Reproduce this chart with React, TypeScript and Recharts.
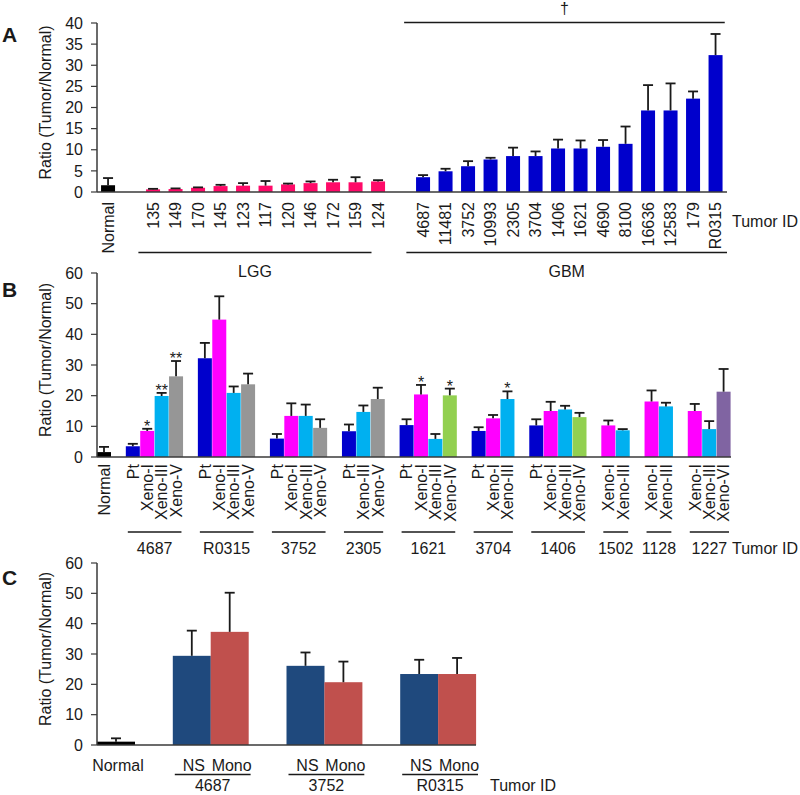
import React from 'react';
import { BarChart, Bar, XAxis, YAxis, Cell, Label } from 'recharts';

const FONT = '"Liberation Sans", Arial, Helvetica, sans-serif';
const INK = '#1a1a1a';
const AXIS = '#3a3a3a';

// ---------------- Panel A data ----------------
const normalA = { value: 1.6, err: 1.7 };
const lggIds = ['135', '149', '170', '145', '123', '117', '120', '146', '172', '159', '124'];
const lggValues = [0.63, 0.7, 1.0, 1.4, 1.5, 1.5, 1.8, 2.1, 2.3, 2.3, 2.5];
const lggErrors = [0.12, 0.15, 0.1, 0.3, 0.6, 1.1, 0.2, 0.4, 0.6, 1.2, 0.3];
const gbmIds = ['4687', '11481', '3752', '10993', '2305', '3704', '1406', '1621', '4690', '8100', '16636', '12583', '179', 'R0315'];
const gbmValues = [3.5, 4.9, 6.1, 7.7, 8.5, 8.5, 10.3, 10.3, 10.7, 11.4, 19.3, 19.3, 22.1, 32.4];
const gbmErrors = [0.5, 0.6, 1.2, 0.4, 2.0, 1.1, 2.1, 1.9, 1.6, 4.1, 6.0, 6.4, 1.7, 5.0];
const ticksA = [0, 5, 10, 15, 20, 25, 30, 35, 40];

// ---------------- Panel B data ----------------
const normalB = { value: 1.6, err: 1.7 };
const tumorsB = ['4687', 'R0315', '3752', '2305', '1621', '3704', '1406', '1502', '1128', '1227'];
const samplesB = [
  ['Pt', 'Xeno-I', 'Xeno-III', 'Xeno-V'],
  ['Pt', 'Xeno-I', 'Xeno-III', 'Xeno-V'],
  ['Pt', 'Xeno-I', 'Xeno-III', 'Xeno-V'],
  ['Pt', 'Xeno-III', 'Xeno-V'],
  ['Pt', 'Xeno-I', 'Xeno-III', 'Xeno-IV'],
  ['Pt', 'Xeno-I', 'Xeno-III'],
  ['Pt', 'Xeno-I', 'Xeno-III', 'Xeno-IV'],
  ['Xeno-I', 'Xeno-III'],
  ['Xeno-I', 'Xeno-III'],
  ['Xeno-I', 'Xeno-III', 'Xeno-VI'],
];
const valuesB = [
  [3.5, 8.5, 19.9, 26.3],
  [32.2, 44.8, 20.9, 23.7],
  [6.0, 13.4, 13.4, 9.5],
  [8.4, 14.7, 18.9],
  [10.4, 20.4, 5.9, 20.1],
  [8.5, 12.6, 18.9],
  [10.3, 15.0, 15.5, 13.0],
  [10.3, 8.7],
  [18.1, 16.5],
  [15.0, 9.1, 21.3],
];
const errorsB = [
  [0.8, 0.7, 1.0, 5.0],
  [5.0, 7.6, 2.1, 3.5],
  [1.5, 4.1, 3.7, 2.8],
  [2.2, 2.1, 3.7],
  [1.9, 3.1, 1.6, 2.2],
  [1.2, 1.1, 2.5],
  [2.0, 3.0, 1.2, 1.4],
  [1.6, 0.4],
  [3.6, 1.2],
  [2.3, 2.6, 7.4],
];
const sigB = [
  ['', '*', '**', '**'],
  ['', '', '', ''],
  ['', '', '', ''],
  ['', '', ''],
  ['', '*', '', '*'],
  ['', '', '*'],
  ['', '', '', ''],
  ['', ''],
  ['', ''],
  ['', '', ''],
];
const ticksBC = [0, 10, 20, 30, 40, 50, 60];

// ---------------- Panel C data ----------------
const normalC = { value: 1.1, err: 1.1 };
const tumorsC = ['4687', '3752', 'R0315'];
const cultureLabels = ['NS', 'Mono'];
const nsValues = [29.4, 26.1, 23.4];
const nsErrors = [8.3, 4.4, 4.7];
const monoValues = [37.3, 20.7, 23.4];
const monoErrors = [12.9, 6.8, 5.3];

// ---------------- Colours ----------------
const C_NORMAL = '#000000';
const C_LGG = '#FF0A68';
const C_GBM = '#0000CC';
const sampleColors: Record<string, string> = {
  Pt: '#0000CC',
  'Xeno-I': '#FF00FF',
  'Xeno-III': '#00B0F0',
  'Xeno-IV': '#92D050',
  'Xeno-V': '#969696',
  'Xeno-VI': '#8064A2',
};
const C_NS = '#1F497D';
const C_MONO = '#C0504D';

type Row = {
  id: string;
  label: string;
  value: number | null;
  err: number | null;
  color: string;
  sig: string;
  group: number;
  first: boolean;
  size: number;
};

const gapRow = (id: string): Row => ({ id, label: '', value: null, err: null, color: 'transparent', sig: '', group: -1, first: false, size: 0 });

// ---------------- Tables ----------------
const rowsA: Row[] = [
  { id: 'A-Normal', label: 'Normal', value: normalA.value, err: normalA.err, color: C_NORMAL, sig: '', group: -1, first: false, size: 0 },
  gapRow('A-gap-1'),
  ...lggIds.map((id, i) => ({ id: `A-${id}`, label: id, value: lggValues[i], err: lggErrors[i], color: C_LGG, sig: '', group: 0, first: i === 0, size: lggIds.length })),
  gapRow('A-gap-2'),
  ...gbmIds.map((id, i) => ({ id: `A-${id}`, label: id, value: gbmValues[i], err: gbmErrors[i], color: C_GBM, sig: '', group: 1, first: i === 0, size: gbmIds.length })),
];

const rowsB: Row[] = [
  { id: 'B-Normal', label: 'Normal', value: normalB.value, err: normalB.err, color: C_NORMAL, sig: '', group: -1, first: false, size: 0 },
];
tumorsB.forEach((t, g) => {
  rowsB.push(gapRow(`B-gap-${g}`));
  samplesB[g].forEach((s, i) =>
    rowsB.push({ id: `B-${t}-${s}`, label: s, value: valuesB[g][i], err: errorsB[g][i], color: sampleColors[s], sig: sigB[g][i], group: g, first: i === 0, size: samplesB[g].length })
  );
});

const rowsC: Row[] = [
  { id: 'C-Normal', label: 'Normal', value: normalC.value, err: normalC.err, color: C_NORMAL, sig: '', group: -1, first: false, size: 0 },
];
tumorsC.forEach((t, g) => {
  rowsC.push(gapRow(`C-gap-${g}`));
  rowsC.push({ id: `C-${t}-NS`, label: cultureLabels[0], value: nsValues[g], err: nsErrors[g], color: C_NS, sig: '', group: g, first: true, size: 2 });
  rowsC.push({ id: `C-${t}-Mono`, label: cultureLabels[1], value: monoValues[g], err: monoErrors[g], color: C_MONO, sig: '', group: g, first: false, size: 2 });
});

// ---------------- Layout constants ----------------
const W = 800;
const A_H = 290, A_M = { top: 23, right: 73, bottom: 38, left: 0 }, A_XH = 60;
const B_TOP = 262, B_H = 300, B_M = { top: 11, right: 69, bottom: 5, left: 0 }, B_XH = 100;
const C_TOP = 555, C_H = 240, C_M = { top: 8, right: 324, bottom: 5, left: 0 }, C_XH = 45;
const Y_W = 97;
const plotW = (m: { right: number; left: number }) => W - m.left - m.right - Y_W;
const A_PLOT_H = A_H - A_M.top - A_M.bottom - A_XH;

const txt = { fontFamily: FONT, fill: INK } as const;

// ---------------- Bar shape with upward error bar ----------------
function ErrBarShape(props: any) {
  const { x, y, width, height, payload } = props;
  if (!payload || payload.value == null || !(height > 0)) return <g />;
  const fill = props.fill || payload.color;
  const ppu = height / payload.value;
  const top = y - (payload.err || 0) * ppu;
  const cx = x + width / 2;
  return (
    <g>
      <rect x={x} y={y} width={width} height={height} fill={fill} />
      <line x1={cx} y1={y} x2={cx} y2={top} stroke={INK} strokeWidth={1.8} />
      <line x1={cx - 5} y1={top} x2={cx + 5} y2={top} stroke={INK} strokeWidth={1.8} />
      {payload.sig ? (
        <text x={cx} y={top + 3} textAnchor="middle" fontSize={16} {...txt}>
          {payload.sig}
        </text>
      ) : null}
    </g>
  );
}

// ---------------- Y axis title + panel letter ----------------
const yTitle = (letter: string, letterDy: number) => (props: any) => {
  const vb = props.viewBox || {};
  const top = vb.y ?? 0;
  const cx = (vb.x ?? 0) + 45.5;
  const cy = top + (vb.height ?? 0) / 2 - 5;
  return (
    <g>
      <text x={cx} y={cy} transform={`rotate(-90 ${cx} ${cy})`} textAnchor="middle" dominantBaseline="central" fontSize={16} {...txt}>
        Ratio (Tumor/Normal)
      </text>
      <text x={2} y={top + letterDy} fontSize={21} fontWeight="bold" {...txt}>
        {letter}
      </text>
    </g>
  );
};

const rotLabel = (x: number, y: number, s: string, key: string) => (
  <text key={key} x={x} y={y} transform={`rotate(-90 ${x} ${y})`} textAnchor="end" dy="0.35em" fontSize={16} {...txt}>
    {s}
  </text>
);

// ---------------- Panel A ticks ----------------
const bracketsA = [
  { group: 0, text: 'LGG', padL: -0.66, padR: -0.3 },
  { group: 1, text: 'GBM', padL: -0.75, padR: 0.5 },
];
const daggerA = { group: 1, text: '\u2020', padL: -0.85, padR: 0.4 };

function TickA(props: any) {
  const { x, y, index } = props;
  const bw = (props.width ?? plotW(A_M)) / (props.visibleTicksCount ?? rowsA.length);
  const row = rowsA[index];
  const els: React.ReactNode[] = [];
  if (row.label) els.push(rotLabel(x, y + 10, row.label, 'l'));
  if (row.first) {
    const b = bracketsA.find((k) => k.group === row.group);
    if (b) {
      const x0 = x + b.padL * bw;
      const x1 = x + (row.size - 1) * bw + b.padR * bw;
      els.push(<line key="bl" x1={x0} x2={x1} y1={y + 60.5} y2={y + 60.5} stroke={INK} strokeWidth={1.5} />);
      els.push(
        <text key="bt" x={(x0 + x1) / 2} y={y + 85} textAnchor="middle" fontSize={16} {...txt}>
          {b.text}
        </text>
      );
    }
    if (daggerA.group === row.group) {
      const x0 = x + daggerA.padL * bw;
      const x1 = x + (row.size - 1) * bw + daggerA.padR * bw;
      const ly = y - A_PLOT_H - 0.5;
      els.push(<line key="dl" x1={x0} x2={x1} y1={ly} y2={ly} stroke={INK} strokeWidth={1.5} />);
      els.push(
        <text key="dt" x={(x0 + x1) / 2} y={ly - 9} textAnchor="middle" fontSize={16} {...txt}>
          {daggerA.text}
        </text>
      );
    }
  }
  if (index === rowsA.length - 1) {
    els.push(
      <text key="tid" x={x + bw / 2 + 5} y={y + 35} fontSize={16} {...txt}>
        Tumor ID
      </text>
    );
  }
  return <g>{els}</g>;
}

// ---------------- Panel B ticks ----------------
function TickB(props: any) {
  const { x, y, index } = props;
  const bw = (props.width ?? plotW(B_M)) / (props.visibleTicksCount ?? rowsB.length);
  const row = rowsB[index];
  const els: React.ReactNode[] = [];
  if (row.label) els.push(rotLabel(x, y + 7, row.label, 'l'));
  if (row.first) {
    const x0 = x - bw / 2 + 2;
    const x1 = x + (row.size - 0.5) * bw - 2;
    els.push(<line key="gl" x1={x0} x2={x1} y1={y + 75} y2={y + 75} stroke={INK} strokeWidth={1.5} />);
    els.push(
      <text key="gt" x={(x0 + x1) / 2} y={y + 96.5} textAnchor="middle" fontSize={16} {...txt}>
        {tumorsB[row.group]}
      </text>
    );
  }
  if (index === rowsB.length - 1) {
    els.push(
      <text key="tid" x={x + bw / 2 + 1} y={y + 96.5} fontSize={16} {...txt}>
        Tumor ID
      </text>
    );
  }
  return <g>{els}</g>;
}

// ---------------- Panel C ticks ----------------
function TickC(props: any) {
  const { x, y, index } = props;
  const bw = (props.width ?? plotW(C_M)) / (props.visibleTicksCount ?? rowsC.length);
  const row = rowsC[index];
  const els: React.ReactNode[] = [];
  if (row.label)
    els.push(
      <text key="l" x={x + 2} y={y + 26} textAnchor="middle" fontSize={16} {...txt}>
        {row.label}
      </text>
    );
  if (row.first) {
    const x0 = x - bw / 2 + 2;
    const x1 = x + (row.size - 0.5) * bw + 2;
    els.push(<line key="gl" x1={x0} x2={x1} y1={y + 29.5} y2={y + 29.5} stroke={INK} strokeWidth={1.5} />);
    els.push(
      <text key="gt" x={(x0 + x1) / 2} y={y + 46} textAnchor="middle" fontSize={16} {...txt}>
        {tumorsC[row.group]}
      </text>
    );
  }
  if (index === rowsC.length - 1) {
    els.push(
      <text key="tid" x={x + bw / 2 + 14} y={y + 46} fontSize={16} {...txt}>
        Tumor ID
      </text>
    );
  }
  return <g>{els}</g>;
}

const axisLine = { stroke: AXIS, strokeWidth: 1.5 };

function Panel(p: {
  rows: Row[];
  height: number;
  margin: { top: number; right: number; bottom: number; left: number };
  xHeight: number;
  domain: [number, number];
  ticks: number[];
  gap: string | number;
  tick: (props: any) => React.ReactElement;
  letter: string;
  letterDy: number;
}) {
  return (
    <BarChart width={W} height={p.height} data={p.rows} margin={p.margin} barCategoryGap={p.gap}>
      <XAxis
        dataKey="id"
        interval={0}
        tickLine={false}
        tickSize={0}
        tickMargin={0}
        axisLine={axisLine}
        height={p.xHeight}
        tick={(tp: any) => p.tick(tp)}
      />
      <YAxis
        type="number"
        domain={p.domain}
        ticks={p.ticks}
        interval={0}
        width={Y_W}
        tickSize={6}
        tickMargin={8}
        axisLine={axisLine}
        tickLine={{ stroke: AXIS, strokeWidth: 1.2 }}
        tick={{ fontSize: 16, fill: INK, fontFamily: FONT }}
      >
        <Label content={yTitle(p.letter, p.letterDy)} />
      </YAxis>
      <Bar dataKey="value" isAnimationActive={false} shape={ErrBarShape}>
        {p.rows.map((r) => (
          <Cell key={r.id} fill={r.color} />
        ))}
      </Bar>
    </BarChart>
  );
}

export default function App() {
  return (
    <div style={{ position: 'absolute', left: 0, top: 0, width: 800, height: 795, overflow: 'hidden', background: '#fff' }}>
      <div style={{ position: 'absolute', left: 0, top: 0 }}>
        <Panel rows={rowsA} height={A_H} margin={A_M} xHeight={A_XH} domain={[0, 40]} ticks={ticksA} gap="18%" tick={TickA} letter="A" letterDy={19} />
      </div>
      <div style={{ position: 'absolute', left: 0, top: B_TOP }}>
        <Panel rows={rowsB} height={B_H} margin={B_M} xHeight={B_XH} domain={[0, 60]} ticks={ticksBC} gap={0} tick={TickB} letter="B" letterDy={24} />
      </div>
      <div style={{ position: 'absolute', left: 0, top: C_TOP }}>
        <Panel rows={rowsC} height={C_H} margin={C_M} xHeight={C_XH} domain={[0, 60]} ticks={ticksBC} gap={0} tick={TickC} letter="C" letterDy={22} />
      </div>
    </div>
  );
}
